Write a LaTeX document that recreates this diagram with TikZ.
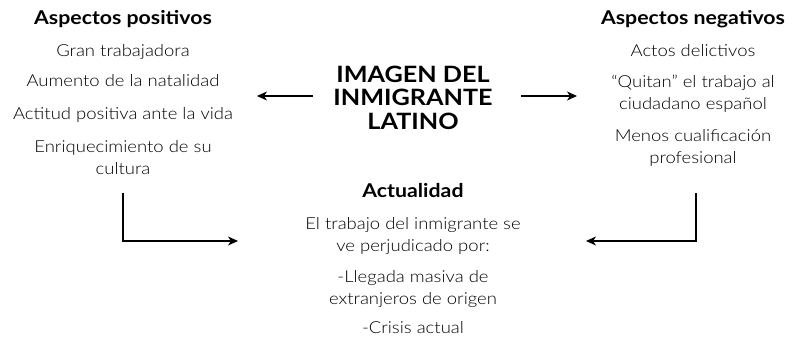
\documentclass[tikz,border=0pt]{standalone}
\usepackage{fontspec}
\setmainfont{Lato Light}[BoldFont=Lato Bold, FakeStretch=1.12]
\usetikzlibrary{arrows.meta}
\begin{document}
\begin{tikzpicture}[x=1pt,y=-1pt,
  every node/.style={inner sep=0pt, align=center, anchor=base},
  titletext/.style={font=\fontsize{19}{21}\selectfont\bfseries},
  bigtitle/.style={font=\fontsize{22.5}{23.5}\selectfont\bfseries},
  body/.style={font=\fontsize{16.5}{22}\selectfont},
  arr/.style={-{Stealth[length=10pt,width=9pt,inset=3pt]}, line width=1.2pt}]
\useasboundingbox (0,0) rectangle (804,343);
% left column (multi-line nodes are placed by the baseline of their last line)
\node[titletext] (pt) at (123,24) {Aspectos positivos};
\node[body] (p1) at (123,56) {Gran trabajadora};
\node[body] (p2) at (123,86) {Aumento de la natalidad};
\node[body] (p3) at (123,119) {Actitud positiva ante la vida};
\node[body] (p4) at (123,174) {Enriquecimiento de su\\cultura};
% right column
\node[titletext] (nt) at (693,24) {Aspectos negativos};
\node[body] (n1) at (693,56) {Actos delictivos};
\node[body] (n2) at (693,109) {``Quitan'' el trabajo al\\ciudadano español};
\node[body] (n3) at (693,163) {Menos cualificación\\profesional};
% centre
\node[bigtitle] (c) at (413,129) {IMAGEN DEL\\INMIGRANTE\\LATINO};
% bottom
\node[titletext] (at) at (413,197) {Actualidad};
\node[body] (a1) at (413,251) {El trabajo del inmigrante se\\ve perjudicado por:};
\node[body] (a2) at (413,304) {-Llegada masiva de\\extranjeros de origen};
\node[body] (a3) at (413,333) {-Crisis actual};
% connectors
\coordinate (lA) at (313,96);
\coordinate (lB) at (257,96);
\coordinate (rA) at (521,96);
\coordinate (rB) at (577,96);
\coordinate (bl1) at (123,193);
\coordinate (bl2) at (238,241);
\coordinate (br1) at (696,193);
\coordinate (br2) at (586,241);
\draw[arr] (lA) -- (lB);
\draw[arr] (rA) -- (rB);
\draw[arr] (bl1) |- (bl2);
\draw[arr] (br1) |- (br2);
\end{tikzpicture}
\end{document}
